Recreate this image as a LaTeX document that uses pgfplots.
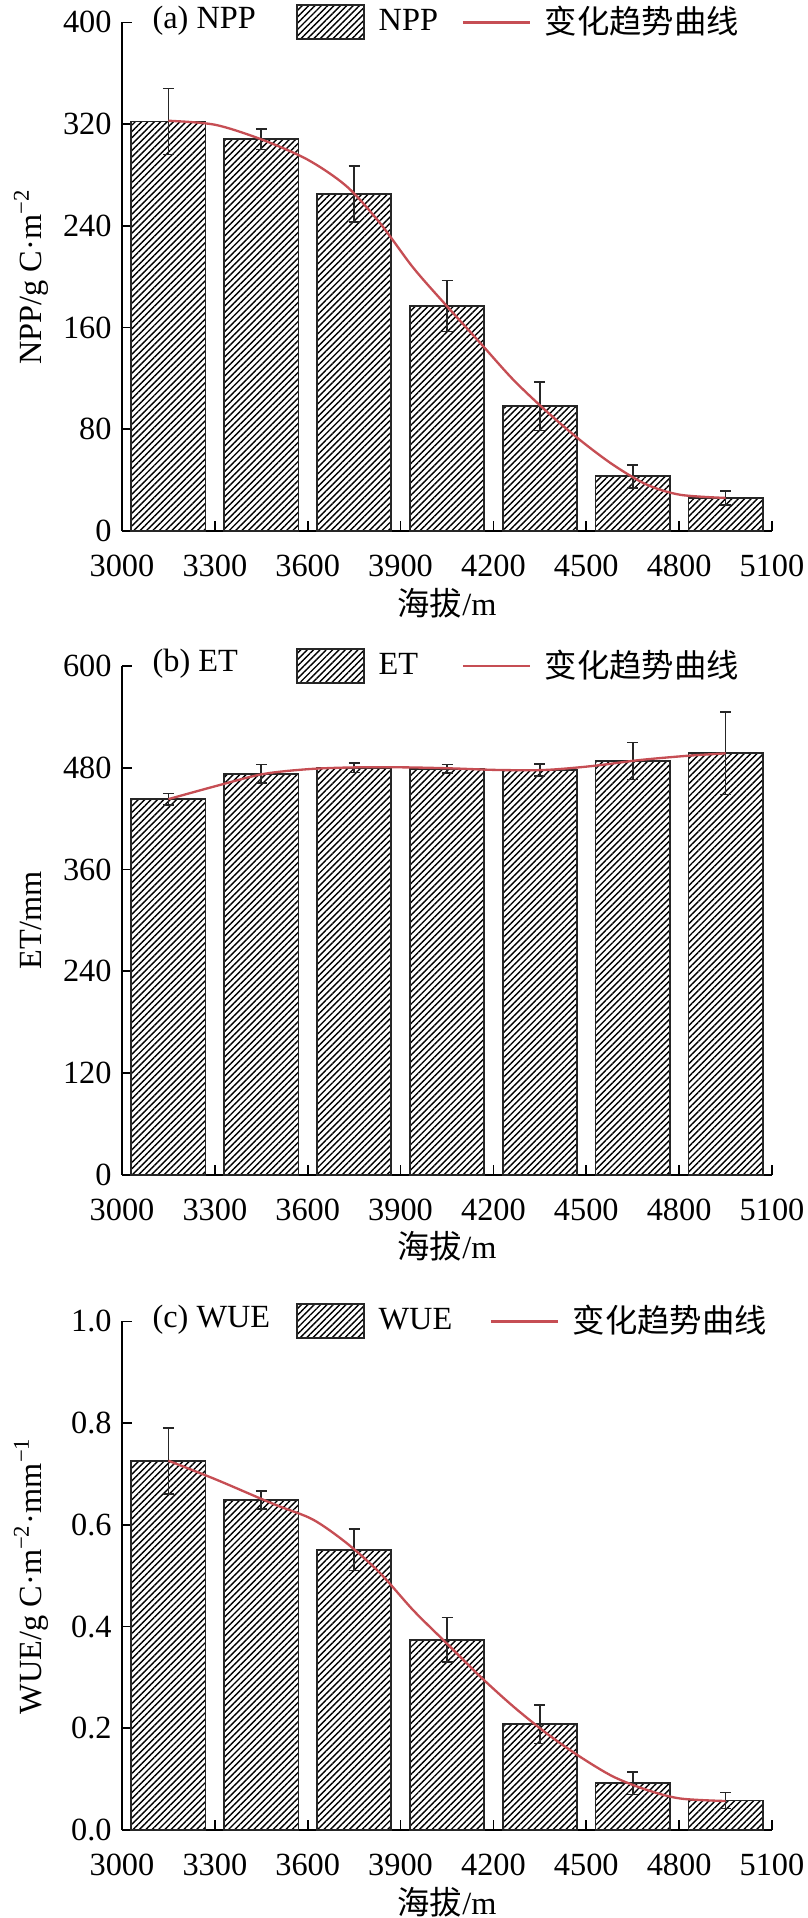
\documentclass[border=0pt]{standalone}
\usepackage{fontspec}
\setmainfont{Liberation Serif}
\newfontfamily\cjk{Noto Sans CJK SC}
\usepackage{pgfplots}
\pgfplotsset{compat=1.18}
\usetikzlibrary{patterns.meta}
\definecolor{trendred}{RGB}{198,78,84}

\pgfplotstableread{
x y e
3150 322 26
3450 308 8
3750 265 22
4050 177 20
4350 98 19
4650 43 9
4950 26 5.5
}\nppbars
\pgfplotstableread{
x y
3150 322.6
3300 319.5
3450 308
3600 292
3726 271
3834 242
3941 207
4049 177
4157 148
4264 119
4372 94
4480 71.5
4587 52
4695 36.5
4803 28.5
4950 26
}\nppcurve
\pgfplotstableread{
x y e
3150 443 6.7
3450 473 10.8
3750 480 5.5
4050 479 4.9
4350 477.5 7.3
4650 488 22
4950 497 48.7
}\etbars
\pgfplotstableread{
x y
3150 443
3304 458.5
3456 472.6
3607 478.5
3759 480.5
3911 480.5
4063 479.3
4215 477.4
4366 477.4
4518 482
4670 489
4822 494
4950 497
}\etcurve
\pgfplotstableread{
x y e
3150 0.726 0.065
3450 0.649 0.018
3750 0.551 0.041
4050 0.374 0.044
4350 0.208 0.038
4650 0.092 0.022
4950 0.058 0.016
}\wuebars
\pgfplotstableread{
x y
3150 0.726
3300 0.690
3450 0.651
3510 0.636
3618 0.610
3726 0.564
3834 0.505
3941 0.432
4049 0.367
4157 0.302
4264 0.243
4372 0.190
4480 0.144
4587 0.105
4695 0.079
4803 0.062
4950 0.057
}\wuecurve

\tikzset{
  hatch/.style={draw=black!85, line width=0.55pt,
    pattern={Lines[angle=45,distance=1.35pt,line width=0.42pt]}},
}
\pgfplotsset{
  myaxis/.style={
    scale only axis, width=195pt, height=152.6pt,
    anchor=south west,
    clip=false,
    axis lines=left,
    axis line style={-, line width=0.6pt, black},
    xmin=3000, xmax=5100, xtick={3000,3300,...,5100},
    ymin=0,
    tick align=inside, major tick length=3pt,
    tick style={black, line width=0.5pt},
    /pgf/number format/assume math mode=true,
    /pgf/number format/1000 sep={},
    xticklabel style={yshift=-3.9pt},
    yticklabel style={xshift=0.3pt},
    xlabel={{\cjk 海拔}/m},
    xlabel style={at={(axis description cs:0.5,0)}, anchor=center, yshift=-21.6pt},
    ylabel style={at={(axis description cs:-0.14,0.5)}, anchor=center},
    legend columns=2,
    legend cell align=left,
    legend style={draw=none, fill=none, at={(axis description cs:0.268,1)},
      anchor=west, inner sep=0pt, outer sep=0pt,
      nodes={inner sep=0pt, anchor=west},
      column sep=0pt,
      /tikz/every odd column/.append style={column sep=4.2pt}},
  },
  barplot/.style={hatch, ybar, bar width=240,
    legend image code/.code={\draw[hatch] (0pt,-5.1pt) rectangle (20pt,5.1pt);},
    error bars/.cd, y dir=both, y explicit,
    error bar style={black!85, line width=0.5pt},
    error mark options={rotate=90, black!85, mark size=1.65pt, line width=0.5pt}},
  curveplot/.style={trendred, line width=0.7pt, smooth, no marks,
    legend image code/.code={\draw[trendred, line width=0.7pt] (0pt,0pt) -- (20pt,0pt);}},
}

\begin{document}
\fontsize{9.7pt}{11.6pt}\selectfont
\begin{tikzpicture}
\path[use as bounding box] (0,0) rectangle (242.1pt,-575.4pt);

% (a) NPP
\begin{axis}[myaxis, at={(36.6pt,-159.3pt)},
  ymax=400, ytick={0,80,...,400},
  ylabel={NPP/g C·m\textsuperscript{−2}}]
\addplot[barplot] table[x=x, y=y, y error=e] {\nppbars};
\addlegendentry{\makebox[24.9pt][l]{NPP}}
\addplot[curveplot] table[x=x, y=y] {\nppcurve};
\addlegendentry{{\cjk 变化趋势曲线}}
\node[anchor=west, inner sep=0pt, yshift=0.6pt] at (axis description cs:0.046,1) {(a) NPP};
\end{axis}

% (b) ET
\begin{axis}[myaxis, at={(36.6pt,-352.4pt)},
  ymax=600, ytick={0,120,...,600},
  ylabel={ET/mm}]
\addplot[barplot] table[x=x, y=y, y error=e] {\etbars};
\addlegendentry{\makebox[24.9pt][l]{ET}}
\addplot[curveplot] table[x=x, y=y] {\etcurve};
\addlegendentry{{\cjk 变化趋势曲线}}
\node[anchor=west, inner sep=0pt, yshift=0.6pt] at (axis description cs:0.046,1) {(b) ET};
\end{axis}

% (c) WUE
\begin{axis}[myaxis, at={(36.6pt,-549.0pt)},
  ymax=1.0, ytick={0,0.2,...,1.0},
  yticklabel style={/pgf/number format/.cd, fixed, fixed zerofill, precision=1},
  ylabel={WUE/g C·m\textsuperscript{−2}·mm\textsuperscript{−1}}]
\addplot[barplot] table[x=x, y=y, y error=e] {\wuebars};
\addlegendentry{\makebox[33.3pt][l]{WUE}}
\addplot[curveplot] table[x=x, y=y] {\wuecurve};
\addlegendentry{{\cjk 变化趋势曲线}}
\node[anchor=west, inner sep=0pt, yshift=0.6pt] at (axis description cs:0.046,1) {(c) WUE};
\end{axis}
\end{tikzpicture}
\end{document}
